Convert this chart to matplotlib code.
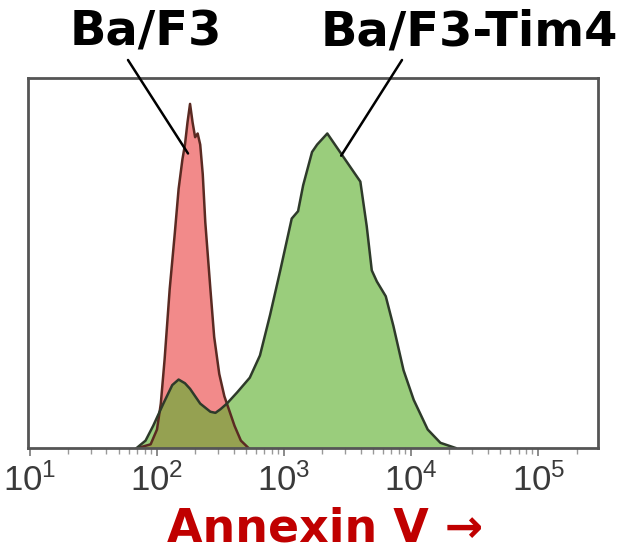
import numpy as np
import matplotlib
matplotlib.use("Agg")
import matplotlib.pyplot as plt

# log10 fluorescence positions and relative counts
baf3_log = [1.85, 1.95, 2.00, 2.03, 2.06, 2.10, 2.14, 2.17, 2.20, 2.22, 2.24, 2.26,
            2.28, 2.30, 2.32, 2.34, 2.36, 2.38, 2.42, 2.45, 2.49, 2.53, 2.57, 2.61,
            2.66, 2.72]
baf3_count = [0.0, 0.01, 0.05, 0.12, 0.24, 0.43, 0.58, 0.70, 0.78, 0.82, 0.88, 0.93,
              0.88, 0.84, 0.85, 0.82, 0.74, 0.61, 0.43, 0.30, 0.20, 0.14, 0.10, 0.06,
              0.02, 0.0]

tim4_log = [1.84, 1.91, 1.97, 2.05, 2.12, 2.17, 2.22, 2.26, 2.34, 2.42, 2.46, 2.50,
            2.55, 2.63, 2.73, 2.81, 2.89, 2.97, 3.06, 3.11, 3.15, 3.22, 3.26, 3.34,
            3.44, 3.54, 3.60, 3.65, 3.69, 3.73, 3.80, 3.86, 3.94, 4.02, 4.13, 4.23,
            4.35]
tim4_count = [0.0, 0.02, 0.06, 0.12, 0.17, 0.185, 0.175, 0.16, 0.12, 0.098, 0.095, 0.105,
              0.12, 0.15, 0.19, 0.25, 0.36, 0.48, 0.62, 0.64, 0.71, 0.80, 0.82, 0.85,
              0.80, 0.75, 0.72, 0.60, 0.48, 0.45, 0.41, 0.33, 0.21, 0.13, 0.05, 0.014,
              0.0]

tick_exp = [1, 2, 3, 4, 5]

fig = plt.figure(figsize=(6.27, 5.53), dpi=100)
ax = fig.add_axes([28/627, 105/553, 570/627, 370/553])

x_red = 10 ** np.array(baf3_log)
x_grn = 10 ** np.array(tim4_log)

ax.fill_between(x_red, baf3_count, color="#f28a8a", lw=0)
ax.plot(x_red, baf3_count, color="#5a2a22", lw=1.8)
ax.fill_between(x_grn, tim4_count, color="#5fb030", alpha=0.63, lw=0)
ax.plot(x_grn, tim4_count, color="#2e3a2a", lw=1.8)

ax.set_xscale("log")
ax.set_xlim(10 ** 0.985, 10 ** 5.47)
ax.set_ylim(0, 1.0)
ax.set_yticks([])
ax.set_xticks([10 ** e for e in tick_exp])
ax.set_xticklabels([r"$\mathregular{10^{%d}}$" % e for e in tick_exp],
                   fontfamily="Liberation Sans", fontsize=25)
ax.tick_params(axis="x", which="major", direction="out", length=6, width=1.2,
               colors="#777777", labelcolor="#3a3a3a", pad=5)
ax.tick_params(axis="x", which="minor", direction="out", length=4, width=1,
               colors="#999999")
for s in ax.spines.values():
    s.set_color("#555555")
    s.set_linewidth(2)

# labels with pointer lines
ax.annotate("", xy=(10 ** 2.244, 0.796), xycoords="data",
            xytext=(128/627, 1 - 60/553), textcoords="figure fraction",
            arrowprops=dict(arrowstyle="-", color="black", lw=1.8, shrinkA=0, shrinkB=0))
ax.annotate("", xy=(10 ** 3.449, 0.79), xycoords="data",
            xytext=(402/627, 1 - 60/553), textcoords="figure fraction",
            arrowprops=dict(arrowstyle="-", color="black", lw=1.8, shrinkA=0, shrinkB=0))

fig.text(146/627, 1 - 45/553, "Ba/F3", ha="center", va="baseline",
         fontsize=34.5, fontweight="bold", family="DejaVu Sans")
fig.text(469/627, 1 - 45/553, "Ba/F3-Tim4", ha="center", va="baseline",
         fontsize=34.5, fontweight="bold", family="DejaVu Sans")

fig.text(325/627, 1 - 541/553, "Annexin V →", ha="center", va="baseline",
         fontsize=33, fontweight="bold", color="#c00000", family="DejaVu Sans")

fig.savefig("out.png", dpi=100)
